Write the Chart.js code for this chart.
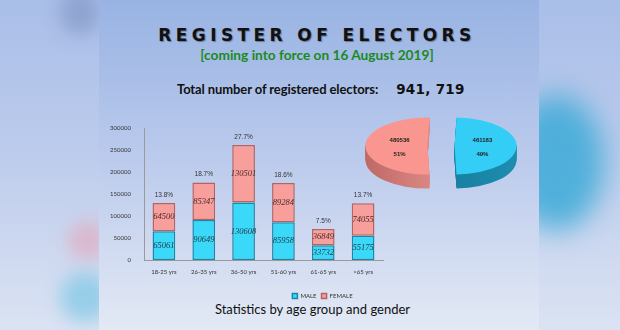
<!DOCTYPE html>
<html>
<head>
<meta charset="utf-8">
<script src="https://cdn.jsdelivr.net/npm/chart.js@4.4.0/dist/chart.umd.min.js"></script>
<style>
  html, body { margin: 0; padding: 0; }
  body { width: 620px; height: 330px; position: relative; overflow: hidden; background: #c4d1ee; }
  .side { position: absolute; top: 0; height: 330px; overflow: hidden; background: linear-gradient(#a9bee8, #bccbec 45%, #dbe3f3); }
  #left { left: 0; width: 99px; }
  #right { left: 539px; width: 81px; }
  .blob { position: absolute; border-radius: 50%; filter: blur(9px); }
  #panel { position: absolute; left: 99px; top: 0; width: 440px; height: 330px; background: linear-gradient(#98b3e3, #b9c9ec 45%, #e3e9f5); }
  .txt { position: absolute; left: 0; width: 634px; text-align: center; white-space: nowrap; }
  #title { top: 27px; font: bold 17px/17px "DejaVu Sans", sans-serif; letter-spacing: 4.4px; color: #111; text-shadow: 1px 1px 1px rgba(0,0,0,0.35); }
  #sub { top: 48px; font: bold 13.7px/14px Lato, sans-serif; color: #1b8a22; }
  #total { top: 82px; left: 177px; width: auto; text-align: left; font: bold 13px/14px Lato, sans-serif; color: #111; letter-spacing: -0.1px; }
  #total b { font: bold 13.5px/14px "DejaVu Sans", sans-serif; margin-left: 18px; letter-spacing: 0.3px; }
  #caption { top: 303px; width: 625px; font: 13px/13px Lato, sans-serif; color: #111; }
  canvas { position: absolute; }
  #bars { left: 100px; top: 112px; }
  #pie { left: 341px; top: 66px; }
</style>
</head>
<body>
<div class="side" id="left">
  <div class="blob" style="left:60px;top:-10px;width:40px;height:45px;background:rgba(120,140,190,0.55)"></div>
  <div class="blob" style="left:68px;top:222px;width:40px;height:38px;background:rgba(225,170,190,0.7)"></div>
  <div class="blob" style="left:60px;top:272px;width:50px;height:50px;background:rgba(130,200,230,0.75)"></div>
</div>
<div id="panel"></div>
<div class="side" id="right">
  <div class="blob" style="left:-30px;top:95px;width:95px;height:135px;background:rgba(60,170,215,0.85);filter:blur(14px)"></div>
</div>

<div class="txt" id="title">REGISTER OF ELECTORS</div>
<div class="txt" id="sub">[coming into force on 16 August 2019]</div>
<div class="txt" id="total">Total number of registered electors:<b>941, 719</b></div>
<div class="txt" id="caption">Statistics by age group and gender</div>

<canvas id="bars" width="445" height="201"></canvas>
<canvas id="pie" width="200" height="160"></canvas>

<script>
const ageGroups = ['18-25 yrs', '26-35 yrs', '36-50 yrs', '51-60 yrs', '61-65 yrs', '>65 yrs'];
const maleVotes = [65061, 90649, 130608, 85958, 33732, 55175];
const femaleVotes = [64500, 85347, 130501, 89284, 36849, 74055];
const yTicks = [0, 50000, 100000, 150000, 200000, 250000, 300000];
const genders = ['MALE', 'FEMALE'];
const genderTotals = [461183, 480536];

const maleFill = '#3ad8f9', maleEdge = '#1688aa';
const femaleFill = '#f89e9b', femaleEdge = '#b8625f';

const grandTotal = genderTotals[0] + genderTotals[1];

// numbers inside each segment and the share of all electors above each stack
const barLabels = {
  id: 'barLabels',
  afterLayout(chart) {
    // legend sits under the whole figure, not just the plot area
    chart.legend.left = 0;
    chart.legend.right = chart.width;
  },
  afterDatasetsDraw(chart) {
    const ctx = chart.ctx;
    ctx.save();
    ctx.textAlign = 'center';
    ctx.textBaseline = 'middle';
    chart.data.datasets.forEach((ds, i) => {
      const meta = chart.getDatasetMeta(i);
      ctx.font = 'italic 8.5px "Liberation Serif", serif';
      ctx.fillStyle = i === 0 ? '#25404e' : '#4a2c2c';
      meta.data.forEach((bar, j) => {
        ctx.fillText(String(ds.data[j]), bar.x, (bar.y + bar.base) / 2);
      });
    });
    const top = chart.getDatasetMeta(1).data;
    ctx.font = '6.5px "Liberation Sans", sans-serif';
    ctx.fillStyle = '#333';
    top.forEach((bar, j) => {
      const share = (maleVotes[j] + femaleVotes[j]) / grandTotal * 100;
      ctx.fillText(share.toFixed(1) + '%', bar.x, bar.y - 8);
    });
    ctx.restore();
  }
};

new Chart(document.getElementById('bars'), {
  type: 'bar',
  data: {
    labels: ageGroups,
    datasets: [
      { label: genders[0], data: maleVotes, backgroundColor: maleFill, borderColor: maleEdge,
        borderWidth: 1.5, borderSkipped: false, categoryPercentage: 0.57, barPercentage: 1 },
      { label: genders[1], data: femaleVotes, backgroundColor: femaleFill, borderColor: femaleEdge,
        borderWidth: 1.5, borderSkipped: false, categoryPercentage: 0.57, barPercentage: 1 }
    ]
  },
  options: {
    responsive: false,
    animation: false,
    layout: { padding: { left: 4, right: 162, top: 16, bottom: 4 } },
    scales: {
      x: {
        stacked: true,
        afterFit(scale) { scale.height = 28; },
        grid: { display: false },
        border: { color: '#9a9a9a' },
        ticks: { font: { size: 6, family: 'Lato' }, color: '#333', padding: 0, maxRotation: 0 }
      },
      y: {
        stacked: true,
        min: 0,
        max: 300000,
        afterFit(scale) { scale.width = 40; },
        afterBuildTicks(scale) { scale.ticks = yTicks.map(v => ({ value: v })); },
        grid: { display: false },
        border: { color: '#9a9a9a' },
        ticks: { font: { size: 6, family: 'Lato' }, color: '#333', padding: 5, callback: v => String(v) }
      }
    },
    plugins: {
      legend: {
        position: 'bottom',
        labels: { boxWidth: 5, boxHeight: 5, padding: 5, color: '#333', font: { size: 6, family: 'Lato' } }
      },
      tooltip: { enabled: false }
    }
  },
  plugins: [barLabels]
});

// tilted, exploded pie with a thick rim, labels with value and share
const pieTilt = 0.46, pieDepth = 14, pieShift = 13.5;
const pieFaces = ['#34cdf5', '#f8968f'];
const pieSides = [['#136d8a', '#1f93b6'], ['#b45c5a', '#d98683']];

const tiltedPie = {
  id: 'tiltedPie',
  beforeDatasetsDraw(chart) {
    const ctx = chart.ctx;
    const arcs = chart.getDatasetMeta(0).data;
    const cx = arcs[0].x, cy = arcs[0].y;
    ctx.save();
    ctx.translate(cx, cy);
    ctx.scale(1, pieTilt);
    ctx.translate(-cx, -cy);
    arcs.forEach((arc, i) => {
      const mid = (arc.startAngle + arc.endAngle) / 2;
      ctx.save();
      ctx.translate(Math.cos(mid) * pieShift, Math.sin(mid) * pieShift);
      const g = ctx.createLinearGradient(cx - 90, 0, cx + 90, 0);
      g.addColorStop(0, pieSides[i][0]);
      g.addColorStop(i === 0 ? 1 : 0.5, pieSides[i][1]);
      const saved = arc.options;
      arc.options = Object.assign({}, saved, { backgroundColor: g });
      for (let d = pieDepth; d > 0; d--) {
        ctx.save();
        ctx.translate(0, d / pieTilt);
        arc.draw(ctx);
        ctx.restore();
      }
      arc.options = saved;
      arc.draw(ctx);
      ctx.restore();
    });
    ctx.restore();
    return false;
  },
  afterDraw(chart) {
    const ctx = chart.ctx;
    const arcs = chart.getDatasetMeta(0).data;
    ctx.save();
    ctx.textAlign = 'center';
    ctx.textBaseline = 'middle';
    ctx.font = 'bold 6px "Liberation Sans", sans-serif';
    ctx.fillStyle = '#1e1e1e';
    arcs.forEach((arc, i) => {
      const mid = (arc.startAngle + arc.endAngle) / 2;
      const dist = arc.outerRadius * 0.45 + pieShift;
      const x = arc.x + Math.cos(mid) * dist;
      const y = arc.y + Math.sin(mid) * dist * pieTilt;
      const pct = Math.round(genderTotals[i] / grandTotal * 100);
      ctx.fillText(String(genderTotals[i]), x, y - 6);
      ctx.fillText(pct + '%', x, y + 8);
    });
    ctx.restore();
  }
};

new Chart(document.getElementById('pie'), {
  type: 'pie',
  data: {
    labels: genders,
    datasets: [{
      data: genderTotals,
      backgroundColor: pieFaces,
      borderWidth: 0,
      offset: 0,
      radius: 62
    }]
  },
  options: {
    responsive: false,
    animation: false,
    rotation: 1.85,
    layout: { padding: 0 },
    plugins: { legend: { display: false }, tooltip: { enabled: false } }
  },
  plugins: [tiltedPie]
});
</script>
</body>
</html>
